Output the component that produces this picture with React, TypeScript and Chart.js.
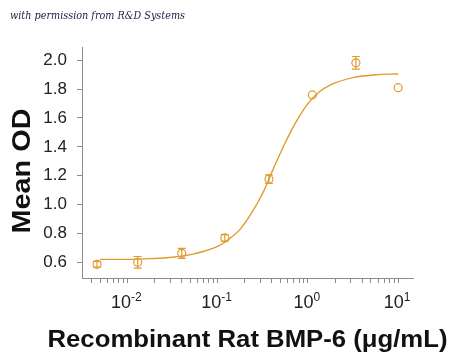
import React, { useEffect, useRef } from "react";
import { Chart, registerables } from "chart.js";

Chart.register(...registerables);

// ---- data ----
const concentrations = [0.0046, 0.013, 0.04, 0.12, 0.37, 1.12, 3.4, 10];
const meanOD = [0.586, 0.6, 0.662, 0.769, 1.176, 1.76, 1.982, 1.81];
const errorOD = [0.02, 0.04, 0.035, 0.022, 0.03, 0, 0.044, 0];

const curveConc = [0.005, 0.01, 0.0178, 0.0316, 0.0562, 0.1, 0.133, 0.178, 0.237, 0.316, 0.422, 0.562, 0.75, 1, 1.33, 1.78, 3.16, 5.62, 10];
const curveOD = [0.62, 0.62, 0.625, 0.635, 0.66, 0.71, 0.76, 0.83, 0.94, 1.08, 1.26, 1.43, 1.58, 1.7, 1.78, 1.83, 1.88, 1.9, 1.905];

const yTickValues = [0.6, 0.8, 1.0, 1.2, 1.4, 1.6, 1.8, 2.0];
const xDecadeExponents = [-2, -1, 0, 1];
const xTickBase = "10";

const xTitle = "Recombinant Rat BMP-6 (\u03BCg/mL)";
const yTitle = "Mean OD";
const watermark = "with permission from R&D Systems";

const ORANGE = "#E09A2E";
const AXIS = "#8c8c8c";
const FONT = "'Liberation Sans', Arial, sans-serif";

export default function App() {
  const ref = useRef<HTMLCanvasElement | null>(null);

  useEffect(() => {
    const canvas = ref.current;
    if (!canvas) return;

    const errorBars = {
      id: "errorBars",
      afterDatasetsDraw(chart: any) {
        const xs = chart.scales.x;
        const ys = chart.scales.y;
        const ctx = chart.ctx;
        ctx.save();
        ctx.strokeStyle = ORANGE;
        ctx.lineWidth = 1.2;
        concentrations.forEach((c, i) => {
          const e = errorOD[i];
          if (!e) return;
          const x = xs.getPixelForValue(c);
          const yt = ys.getPixelForValue(meanOD[i] + e);
          const yb = ys.getPixelForValue(meanOD[i] - e);
          ctx.beginPath();
          ctx.moveTo(x, yt);
          ctx.lineTo(x, yb);
          ctx.moveTo(x - 4, yt);
          ctx.lineTo(x + 4, yt);
          ctx.moveTo(x - 4, yb);
          ctx.lineTo(x + 4, yb);
          ctx.stroke();
        });
        ctx.restore();
      },
    };

    const extraText = {
      id: "extraText",
      afterDraw(chart: any) {
        const ctx = chart.ctx;
        const xs = chart.scales.x;
        const area = chart.chartArea;
        ctx.save();
        // x decade labels with superscripts
        ctx.fillStyle = "#222";
        ctx.textBaseline = "alphabetic";
        ctx.textAlign = "left";
        const baseY = 308;
        xDecadeExponents.forEach((ex) => {
          const px = xs.getPixelForValue(Math.pow(10, ex));
          const expText = ex < 0 ? "-" + Math.abs(ex) : String(ex);
          ctx.font = `18px ${FONT}`;
          const wb = ctx.measureText(xTickBase).width;
          ctx.font = `12px ${FONT}`;
          const we = ctx.measureText(expText).width;
          const start = px - (wb + we) / 2 - 1;
          ctx.font = `18px ${FONT}`;
          ctx.fillText(xTickBase, start, baseY);
          ctx.font = `12px ${FONT}`;
          ctx.fillText(expText, start + wb, baseY - 7);
        });

        // x axis title, stretched to the reference's span
        ctx.fillStyle = "#111";
        ctx.font = `bold 23px ${FONT}`;
        ctx.textAlign = "center";
        ctx.textBaseline = "alphabetic";
        const cx = (area.left + area.right) / 2;
        const xw = ctx.measureText(xTitle).width;
        ctx.save();
        ctx.translate(cx, 347);
        ctx.scale(400 / xw, 1);
        ctx.fillText(xTitle, 0, 0);
        ctx.restore();

        // y axis title
        ctx.font = `bold 25px ${FONT}`;
        const yw = ctx.measureText(yTitle).width;
        ctx.save();
        ctx.translate(30, 171);
        ctx.rotate(-Math.PI / 2);
        ctx.scale(125 / yw, 1);
        ctx.fillText(yTitle, 0, 0);
        ctx.restore();

        // watermark
        ctx.font = "italic 10.5px 'DejaVu Serif', serif";
        ctx.fillStyle = "#1c1c44";
        ctx.textAlign = "left";
        ctx.textBaseline = "middle";
        const ww = ctx.measureText(watermark).width;
        ctx.save();
        ctx.translate(10, 16);
        ctx.scale(175 / ww, 1.05);
        ctx.fillText(watermark, 0, 0);
        ctx.restore();
        ctx.restore();
      },
    };

    const xAllTicks: { value: number; major: boolean }[] = [];
    for (let e = -3; e <= 1; e++) {
      for (let d = 1; d <= 9; d++) {
        const v = d * Math.pow(10, e);
        if (v >= 0.00314 && v <= 14.6) xAllTicks.push({ value: v, major: d === 1 });
      }
    }

    const chart = new Chart(canvas, {
      type: "scatter",
      data: {
        datasets: [
          {
            data: curveConc.map((c, i) => ({ x: c, y: curveOD[i] })),
            showLine: true,
            borderColor: ORANGE,
            borderWidth: 1.4,
            pointRadius: 0,
            cubicInterpolationMode: "monotone",
            fill: false,
          } as any,
          {
            data: concentrations.map((c, i) => ({ x: c, y: meanOD[i] })),
            showLine: false,
            pointRadius: 4,
            pointBorderWidth: 1.2,
            pointBackgroundColor: "rgba(0,0,0,0)",
            pointBorderColor: ORANGE,
          },
        ],
      },
      options: {
        responsive: false,
        animation: false,
        devicePixelRatio: 1,
        layout: { padding: { left: 0, right: 37, top: 47, bottom: 0 } },
        plugins: { legend: { display: false }, tooltip: { enabled: false } },
        scales: {
          x: {
            type: "logarithmic",
            min: 0.00314,
            max: 14.6,
            afterBuildTicks: (scale: any) => {
              scale.ticks = xAllTicks.map((t) => ({ value: t.value, major: t.major }));
            },
            afterFit: (scale: any) => {
              scale.height = 79;
            },
            ticks: { callback: () => "", autoSkip: false, maxRotation: 0 },
            grid: {
              drawOnChartArea: false,
              drawTicks: true,
              tickLength: 5,
              tickColor: AXIS,
              tickWidth: 1,
            },
            border: { color: AXIS, width: 1 },
          },
          y: {
            type: "linear",
            min: 0.491,
            max: 2.092,
            afterBuildTicks: (scale: any) => {
              scale.ticks = yTickValues.map((v) => ({ value: v }));
            },
            afterFit: (scale: any) => {
              scale.width = 82;
            },
            ticks: {
              callback: (v: any) => Number(v).toFixed(1),
              color: "#222",
              font: { family: FONT, size: 17 },
              padding: 10,
            },
            grid: {
              drawOnChartArea: false,
              drawTicks: true,
              tickLength: 5,
              tickColor: AXIS,
            },
            border: { color: AXIS, width: 1 },
          },
        },
      },
      plugins: [errorBars, extraText],
    } as any);

    return () => chart.destroy();
  }, []);

  return (
    <div style={{ position: "absolute", left: 0, top: 0, width: 450, height: 357, background: "#fff" }}>
      <canvas ref={ref} width={450} height={357} />
    </div>
  );
}
